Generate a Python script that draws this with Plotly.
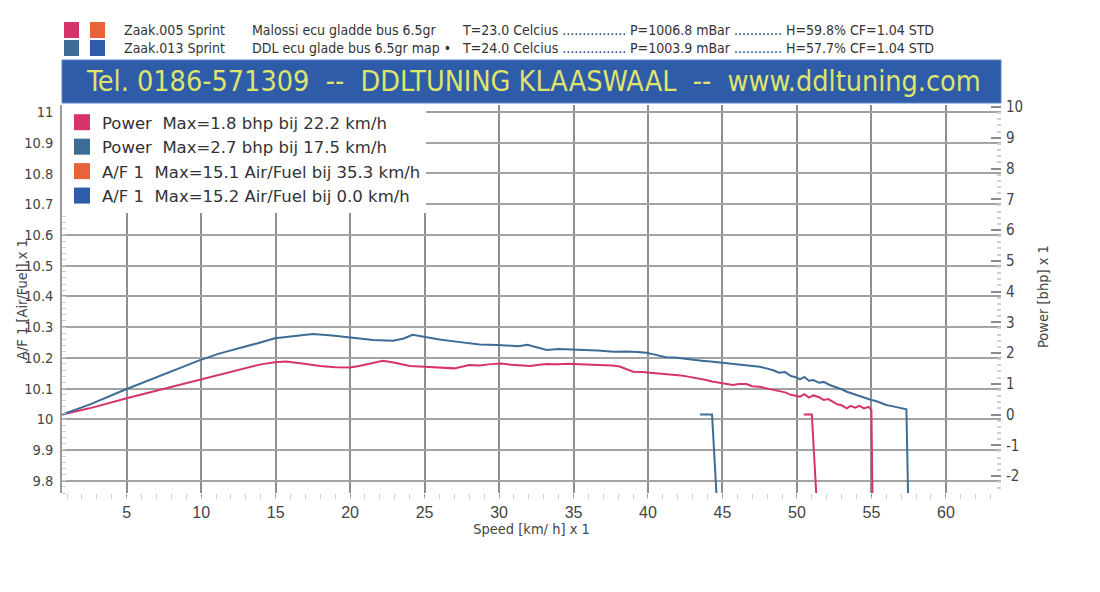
import plotly.graph_objects as go

# ---------------- data ----------------
pink_speed = [0.66, 2.5, 5.0, 7.5, 10.0, 11.5, 13.1, 14.0, 14.95, 15.7, 16.8, 18.0, 19.0, 20.0, 20.6,
              21.4, 22.2, 23.0, 24.0, 25.0, 26.0, 27.0, 28.0, 28.7, 29.3, 30.1, 30.8, 31.4, 32.1, 32.7,
              33.2, 34.0, 34.6, 35.4, 36.2, 37.0, 37.6, 38.1, 38.6, 39.0, 39.6, 40.2, 40.7, 41.2, 41.7,
              42.2, 42.6, 43.0, 43.5, 43.9, 44.3, 44.8, 45.2, 45.7, 46.1, 46.6, 47.0, 47.5, 47.95, 48.4,
              48.8, 49.2, 49.6, 50.0, 50.2, 50.5, 50.8, 51.1, 51.5, 51.8, 52.1, 52.4, 52.7, 53.0, 53.35,
              53.6, 53.9, 54.2, 54.5, 54.8, 55.0, 55.07]
pink_power = [0.00, 0.20, 0.53, 0.84, 1.14, 1.32, 1.53, 1.63, 1.70, 1.72, 1.66, 1.58, 1.54, 1.53, 1.58,
              1.67, 1.75, 1.68, 1.58, 1.55, 1.53, 1.50, 1.61, 1.59, 1.63, 1.66, 1.62, 1.60, 1.58, 1.62,
              1.64, 1.63, 1.65, 1.63, 1.62, 1.60, 1.59, 1.56, 1.47, 1.39, 1.38, 1.36, 1.33, 1.32, 1.29,
              1.27, 1.24, 1.21, 1.15, 1.12, 1.07, 1.03, 1.00, 0.96, 0.99, 0.99, 0.92, 0.90, 0.85, 0.80,
              0.74, 0.72, 0.64, 0.60, 0.58, 0.66, 0.55, 0.62, 0.56, 0.47, 0.50, 0.42, 0.33, 0.30, 0.20,
              0.28, 0.22, 0.28, 0.20, 0.25, 0.15, -2.6]

blue_speed = [0.66, 2.5, 5.0, 7.5, 9.92, 11.2, 12.6, 13.8, 14.95, 16.2, 17.5, 18.8, 20.0, 20.8, 21.55,
              22.9, 23.6, 24.2, 24.9, 26.0, 27.1, 28.7, 29.9, 30.6, 31.3, 31.9, 32.5, 33.2, 34.0, 35.0,
              35.8, 36.6, 37.7, 38.5, 39.3, 39.9, 40.6, 41.2, 41.8, 42.4, 43.0, 43.6, 44.2, 44.8, 45.4,
              46.0, 46.6, 47.0, 47.5, 47.95, 48.4, 48.8, 49.2, 49.6, 50.0, 50.2, 50.5, 50.8, 51.1, 51.5,
              51.8, 52.2, 52.6, 53.0, 53.35, 53.7, 54.0, 54.4, 54.7, 55.0, 55.3, 55.6, 56.0, 56.3, 56.6,
              57.0, 57.35, 57.46]
blue_power = [0.00, 0.32, 0.83, 1.30, 1.77, 1.98, 2.15, 2.32, 2.48, 2.56, 2.62, 2.57, 2.51, 2.46, 2.42,
              2.40, 2.47, 2.59, 2.53, 2.44, 2.37, 2.28, 2.26, 2.24, 2.22, 2.27, 2.18, 2.10, 2.13, 2.12,
              2.09, 2.08, 2.04, 2.05, 2.03, 2.01, 1.93, 1.86, 1.85, 1.81, 1.77, 1.75, 1.72, 1.69, 1.66,
              1.64, 1.61, 1.58, 1.55, 1.50, 1.44, 1.36, 1.38, 1.25, 1.20, 1.14, 1.22, 1.10, 1.12, 1.03,
              1.06, 0.96, 0.90, 0.82, 0.74, 0.68, 0.62, 0.56, 0.52, 0.47, 0.44, 0.38, 0.31, 0.28, 0.25,
              0.22, 0.17, -2.6]

# rundown (coast-down) segments
pink_rd_speed = [50.45, 51.0, 51.3]
pink_rd_power = [0.0, 0.0, -2.6]
blue_rd_speed = [43.5, 44.3, 44.6]
blue_rd_power = [0.0, 0.0, -2.6]

legend_names = ["Power  Max=1.8 bhp bij 22.2 km/h",
                "Power  Max=2.7 bhp bij 17.5 km/h",
                "A/F 1  Max=15.1 Air/Fuel bij 35.3 km/h",
                "A/F 1  Max=15.2 Air/Fuel bij 0.0 km/h"]

header_cols = [
    ["Zaak.005 Sprint", "Malossi ecu gladde bus 6.5gr", "T=23.0 Celcius ................",
     "P=1006.8 mBar ............", "H=59.8% CF=1.04 STD"],
    ["Zaak.013 Sprint", "DDL ecu glade bus 6.5gr map \u2022", "T=24.0 Celcius ................",
     "P=1003.9 mBar ............", "H=57.7% CF=1.04 STD"],
]
banner_text = "Tel. 0186-571309  --  DDLTUNING KLAASWAAL  --  www.ddltuning.com"

x_ticks = [5, 10, 15, 20, 25, 30, 35, 40, 45, 50, 55, 60]
af_ticks = [9.8, 9.9, 10.0, 10.1, 10.2, 10.3, 10.4, 10.5, 10.6, 10.7, 10.8, 10.9, 11.0]
af_labels = ["9.8", "9.9", "10", "10.1", "10.2", "10.3", "10.4", "10.5", "10.6", "10.7", "10.8", "10.9", "11"]
pw_ticks = [-2, -1, 0, 1, 2, 3, 4, 5, 6, 7, 8, 9, 10]
pw_labels = ["-2", "-1", "0", "1", "2", "3", "4", "5", "6", "7", "8", "9", "10"]

# ---------------- style ----------------
PINK = "#d6336c"
STEEL = "#3d6d96"
ORANGE = "#e8623a"
BLUE = "#2d5ca8"
GRID = "#a3a3a3"
TXT = "#444444"
NARROW = "DejaVu Sans Condensed, Liberation Sans Narrow, Arial Narrow, sans-serif"
SANS = "Liberation Sans, Arial, sans-serif"
WIDE = "DejaVu Sans, Verdana, sans-serif"

OFF = 8  # page body margin
W, H = 1100 - OFF, 592 - OFF
PL, PR, PT, PB = 62 - OFF, 1001 - OFF, 105 - OFF, 493 - OFF


def pxx(x):
    return (x - OFF - PL) / (PR - PL)


def pxy(y):
    return (PB - (y - OFF)) / (PB - PT)


fig = go.Figure()

fig.add_trace(go.Scatter(x=pink_speed, y=pink_power, mode="lines", yaxis="y2",
                         line=dict(color=PINK, width=2), showlegend=False, legendgroup="p1"))
fig.add_trace(go.Scatter(x=pink_rd_speed, y=pink_rd_power, mode="lines", yaxis="y2",
                         line=dict(color=PINK, width=2), showlegend=False, legendgroup="p1"))
fig.add_trace(go.Scatter(x=blue_speed, y=blue_power, mode="lines", yaxis="y2",
                         line=dict(color=STEEL, width=2), showlegend=False, legendgroup="p2"))
fig.add_trace(go.Scatter(x=blue_rd_speed, y=blue_rd_power, mode="lines", yaxis="y2",
                         line=dict(color=STEEL, width=2), showlegend=False, legendgroup="p2"))

# legend entries
for name, col, grp in zip(legend_names, [PINK, STEEL, ORANGE, BLUE], ["p1", "p2", "a1", "a2"]):
    fig.add_trace(go.Scatter(x=[None], y=[None], mode="markers", name=name, legendgroup=grp,
                             marker=dict(symbol="square", size=16, color=col,
                                         line=dict(width=0))))

# banner
fig.add_shape(type="rect", xref="paper", yref="paper", x0=pxx(62), x1=pxx(1001), y0=pxy(103), y1=pxy(60),
              fillcolor="#2f5ca9", line=dict(color="#5b83c4", width=1), layer="above")
fig.add_annotation(xref="paper", yref="paper", x=pxx(533), y=pxy(81), text=banner_text, showarrow=False,
                   xanchor="center", yanchor="middle",
                   font=dict(family=NARROW, size=28.5, color="#dfe46c"))

# header squares
sq_cols = [[PINK, ORANGE], [STEEL, BLUE]]
for i, (y0, y1) in enumerate([(22, 38), (40, 56)]):
    for j, (x0, x1) in enumerate([(64, 79), (90, 105)]):
        fig.add_shape(type="rect", xref="paper", yref="paper", x0=pxx(x0), x1=pxx(x1),
                      y0=pxy(y1), y1=pxy(y0), fillcolor=sq_cols[i][j], line=dict(width=0))

col_x = [122, 250, 460, 628, 784]
for i, yc in enumerate([30, 48]):
    for j, xc in enumerate(col_x):
        fig.add_annotation(xref="paper", yref="paper", x=pxx(xc), y=pxy(yc), text=header_cols[i][j],
                           showarrow=False, xanchor="left", yanchor="middle",
                           font=dict(family=NARROW, size=14, color="#333333"))

# y-axis titles
fig.add_annotation(xref="paper", yref="paper", x=pxx(22), y=pxy(300), text="A/F 1 [Air/Fuel] x 1",
                   textangle=-90, showarrow=False, xanchor="center", yanchor="middle",
                   font=dict(family=NARROW, size=14.5, color=TXT))
fig.add_annotation(xref="paper", yref="paper", x=pxx(1043), y=pxy(297), text="Power [bhp] x 1",
                   textangle=-90, showarrow=False, xanchor="center", yanchor="middle",
                   font=dict(family=NARROW, size=14.5, color=TXT))

fig.update_layout(
    width=W, height=H,
    margin=dict(l=PL, r=W - PR, t=PT, b=H - PB, autoexpand=False),
    paper_bgcolor="white", plot_bgcolor="white",
    showlegend=True,
    legend=dict(x=0.0, y=1.0, xanchor="left", yanchor="top", bgcolor="white",
                font=dict(family=WIDE, size=16.5, color="#333333"),
                tracegroupgap=0, itemclick=False),
    xaxis=dict(range=[0.658, 63.70], tickvals=x_ticks, showgrid=True, gridcolor="#8f8f8f", gridwidth=1.5,
               zeroline=False, showline=False, ticks="outside", ticklen=3, tickcolor="#8f8f8f",
               tickfont=dict(family=SANS, size=16, color=TXT), ticklabelstandoff=2,
               minor=dict(dtick=1, tick0=0, ticks="outside", ticklen=5, tickcolor="#cfcfcf", showgrid=False),
               title=dict(text="Speed [km/ h] x 1", standoff=3,
                          font=dict(family=NARROW, size=14.5, color=TXT))),
    yaxis=dict(range=[9.76, 11.0228], tickvals=af_ticks, ticktext=af_labels, showgrid=True,
               gridcolor=GRID, gridwidth=1.5, zeroline=False, showline=True, linecolor="#9a9a9a",
               linewidth=1.5, ticks="", tickfont=dict(family=NARROW, size=14.5, color=TXT), ticklabelstandoff=4,
               minor=dict(dtick=0.02, ticks="inside", ticklen=4, tickcolor="#d0d0d0", showgrid=False)),
    yaxis2=dict(range=[-2.553, 10.065], overlaying="y", side="right", tickvals=pw_ticks, ticktext=pw_labels,
                showgrid=False, zeroline=False, showline=False, ticks="inside", ticklen=10,
                tickcolor="#8a8a8a", tickwidth=1.5,
                tickfont=dict(family=NARROW, size=15, color=TXT), ticklabelstandoff=4,
                minor=dict(dtick=0.2, ticks="inside", ticklen=4, tickcolor="#d0d0d0", showgrid=False)),
)

fig.write_html("out.html")
